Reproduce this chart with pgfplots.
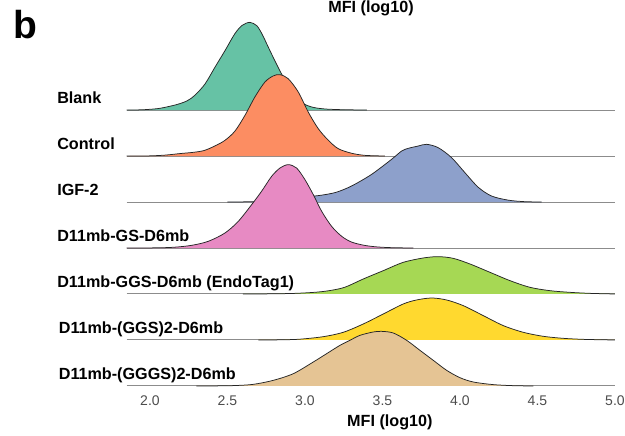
\documentclass[border=0pt]{standalone}
\usepackage{pgfplots}
\pgfplotsset{compat=1.18}
\usepackage{fontspec}
\setmainfont{Liberation Sans}
\definecolor{cBlank}{HTML}{66C2A5}
\definecolor{cControl}{HTML}{FC8D62}
\definecolor{cIGF}{HTML}{8DA0CB}
\definecolor{cGS}{HTML}{E78AC3}
\definecolor{cGGS}{HTML}{A6D854}
\definecolor{cGGStwo}{HTML}{FFD92F}
\definecolor{cGGGStwo}{HTML}{E5C494}
\definecolor{gridc}{HTML}{8C8C8C}
\begin{document}
\begin{tikzpicture}
\useasboundingbox (-76.02pt,-30pt) rectangle (298.98pt,231.6pt);
\begin{axis}[
  at={(0,0)}, anchor=south west,
  scale only axis, width=292.95pt, height=220.8pt,
  xmin=1.85, xmax=5.0, ymin=0, ymax=8,
  axis line style={draw=none},
  ytick=\empty,
  xtick={2,2.5,3,3.5,4,4.5,5},
  major tick length=0pt,
  xticklabel style={anchor=base, yshift=-11.6pt, font=\fontsize{8.4}{9}\selectfont, text=black!70},
  /pgf/number format/.cd, fixed, fixed zerofill, precision=1, assume math mode=true,
  /pgfplots/.cd,
  clip=false,
  ridge/.style={smooth, draw=black!85, line width=0.45pt, line join=round},
]
\pgfplotsinvokeforeach{0,...,6}{\addplot[gridc, line width=0.6pt] coordinates {(1.85,#1) (5.0,#1)};}

% Blank
\addplot[ridge, fill=cBlank] table[x index=0, y expr=\thisrowno{1}+6] {
1.85 0
1.95 0.005
2.05 0.03
2.12 0.075
2.18 0.125
2.24 0.2
2.29 0.32
2.355 0.565
2.419 0.928
2.484 1.29
2.548 1.66
2.595 1.84
2.645 1.906
2.69 1.83
2.725 1.64
2.763 1.37
2.806 1.07
2.845 0.81
2.892 0.53
2.94 0.3
2.99 0.14
3.05 0.06
3.13 0.022
3.25 0.006
3.4 0
};
% Control
\addplot[ridge, fill=cControl] table[x index=0, y expr=\thisrowno{1}+5] {
1.85 0
2.0 0.003
2.1 0.02
2.2 0.055
2.28 0.08
2.35 0.12
2.42 0.22
2.484 0.341
2.548 0.54
2.613 0.884
2.677 1.283
2.742 1.609
2.796 1.742
2.839 1.768
2.892 1.681
2.957 1.391
3.021 0.957
3.086 0.594
3.151 0.341
3.215 0.159
3.301 0.06
3.387 0.014
3.516 0
};
% IGF-2
\addplot[ridge, fill=cIGF] table[x index=0, y expr=\thisrowno{1}+4] {
2.5 0
2.7 0.01
2.87 0.06
3.0 0.11
3.1 0.145
3.2 0.21
3.301 0.348
3.43 0.601
3.559 0.928
3.624 1.109
3.667 1.167
3.731 1.217
3.785 1.254
3.86 1.181
3.946 0.964
4.032 0.638
4.118 0.32
4.204 0.13
4.312 0.04
4.419 0.007
4.527 0
};
% D11mb-GS-D6mb
\addplot[ridge, fill=cGS] table[x index=0, y expr=\thisrowno{1}+3] {
1.85 0
2.05 0.004
2.161 0.018
2.269 0.058
2.376 0.145
2.484 0.326
2.570 0.580
2.656 0.942
2.72 1.232
2.785 1.558
2.839 1.739
2.892 1.812
2.946 1.739
3.0 1.486
3.054 1.159
3.108 0.797
3.172 0.471
3.237 0.254
3.3 0.13
3.38 0.06
3.46 0.025
3.56 0.007
3.7 0
};
% D11mb-GGS-D6mb (EndoTag1)
\addplot[ridge, fill=cGGS] table[x index=0, y expr=\thisrowno{1}+2] {
2.6 0
2.8 0.004
2.946 0.015
3.075 0.04
3.17 0.08
3.26 0.15
3.376 0.326
3.505 0.507
3.634 0.688
3.763 0.783
3.860 0.812
3.957 0.775
4.065 0.652
4.194 0.471
4.323 0.29
4.452 0.145
4.581 0.072
4.71 0.036
4.839 0.014
4.95 0.004
5.0 0
};
% D11mb-(GGS)2-D6mb
\addplot[ridge, fill=cGGStwo] table[x index=0, y expr=\thisrowno{1}+1] {
2.7 0
2.85 0.004
2.968 0.018
3.118 0.072
3.247 0.167
3.376 0.348
3.505 0.565
3.634 0.783
3.72 0.87
3.817 0.913
3.914 0.87
4.022 0.746
4.151 0.529
4.28 0.312
4.409 0.167
4.538 0.08
4.667 0.036
4.796 0.014
4.93 0.004
5.0 0
};
% D11mb-(GGGS)2-D6mb
\addplot[ridge, fill=cGGGStwo] table[x index=0, y expr=\thisrowno{1}+0] {
2.3 0
2.45 0.003
2.55 0.01
2.667 0.036
2.796 0.123
2.925 0.268
3.054 0.522
3.14 0.703
3.226 0.884
3.29 0.993
3.355 1.101
3.441 1.174
3.495 1.188
3.57 1.152
3.656 0.993
3.742 0.775
3.828 0.558
3.914 0.341
4.0 0.181
4.086 0.087
4.215 0.03
4.344 0.007
4.473 0
};

\begin{scope}[every node/.style={anchor=base west, inner sep=0pt, font=\fontsize{9.7}{11}\selectfont\bfseries}]
\node at (axis cs:1.4,6.14) {Blank};
\node at (axis cs:1.4,5.14) {Control};
\node at (axis cs:1.4,4.14) {IGF-2};
\node at (axis cs:1.4,3.14) {D11mb-GS-D6mb};
\node at (axis cs:1.4,2.14) {D11mb-GGS-D6mb (EndoTag1)};
\node at (axis cs:1.41,1.14) {D11mb-(GGS)2-D6mb};
\node at (axis cs:1.41,0.14) {D11mb-(GGGS)2-D6mb};
\end{scope}
\node[anchor=base, inner sep=0pt, font=\fontsize{9.7}{11}\selectfont\bfseries] at (axis cs:3.548,-0.87) {MFI (log10)};
\node[anchor=base, inner sep=0pt, font=\fontsize{9.7}{11}\selectfont\bfseries] at (axis cs:3.426,8.12) {MFI (log10)};
\node[anchor=base west, inner sep=0pt, font=\fontsize{23.4}{26}\selectfont\bfseries] at (axis cs:1.116,7.565) {b};
\end{axis}
\end{tikzpicture}
\end{document}
